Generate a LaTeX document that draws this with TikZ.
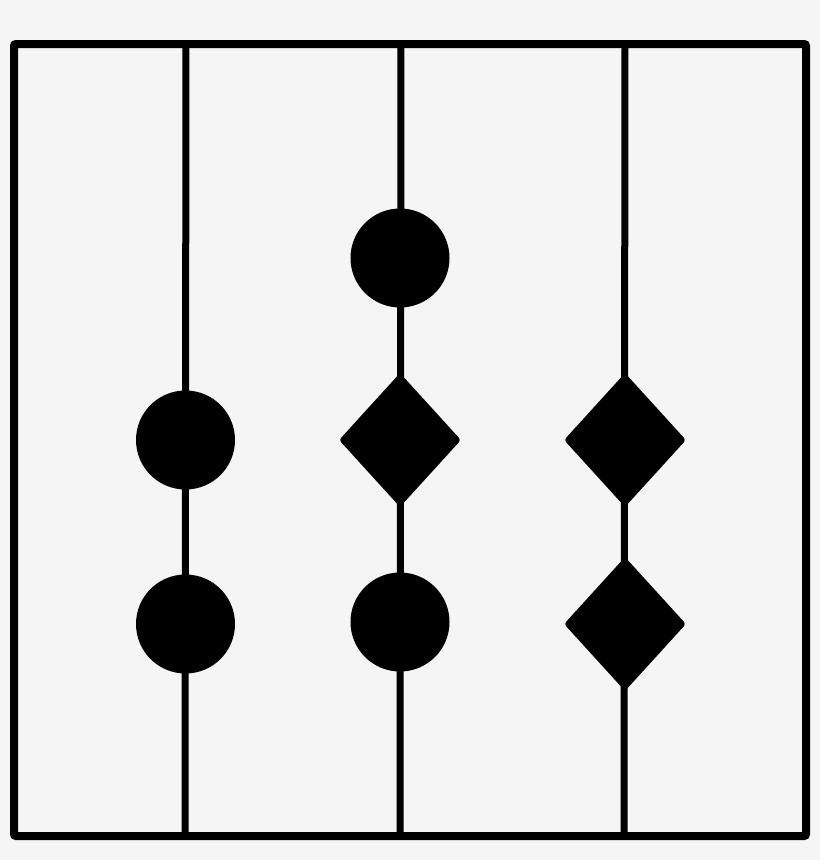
\documentclass[tikz,border=0pt]{standalone}
\usetikzlibrary{shapes.geometric}
\definecolor{bg}{HTML}{F5F5F5}
\tikzset{
  bead/.style={circle,fill=black,inner sep=0pt,minimum size=99pt},
  gem/.style={diamond,fill=black,inner sep=0pt,minimum width=122pt,minimum height=134pt,rounded corners=3pt},
  rod/.style={line width=7pt},
  frame/.style={line width=8pt,rounded corners=2pt}
}
\begin{document}
\begin{tikzpicture}[x=1pt,y=-1pt]
\fill[bg] (0,0) rectangle (820,860);
\useasboundingbox (0,0) rectangle (820,860);
% rod end points
\coordinate (t1) at (186,44);
\coordinate (b1) at (185,836);
\coordinate (t2) at (401,44);
\coordinate (b2) at (400,836);
\coordinate (t3) at (625,44);
\coordinate (b3) at (624,836);
\draw[rod] (t1) -- (b1);
\draw[rod] (t2) -- (b2);
\draw[rod] (t3) -- (b3);
\node[bead] (c11) at (185.5,440) {};
\node[bead] (c12) at (185.5,624) {};
\node[bead] (c21) at (400,258) {};
\node[gem] (d21) at (400,440) {};
\node[bead] (c22) at (400,622) {};
\node[gem] (d31) at (625,440) {};
\node[gem] (d32) at (625,624) {};
\draw[frame] (14,44) rectangle (806,836);
\end{tikzpicture}
\end{document}
